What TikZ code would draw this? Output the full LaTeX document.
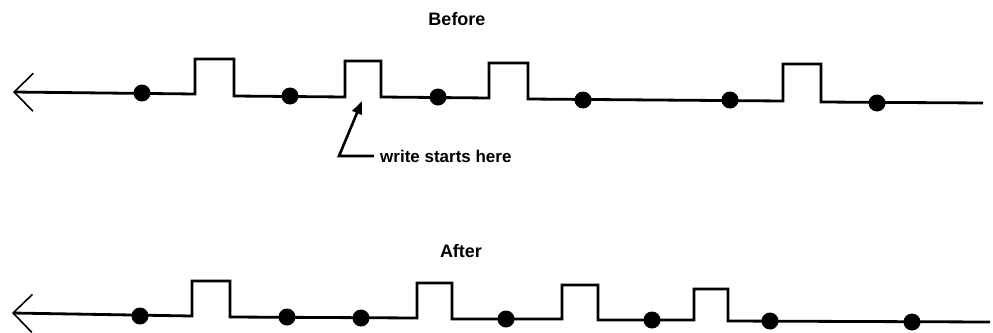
\documentclass[tikz,border=0pt]{standalone}
\usepackage{fontspec}
\setmainfont{Liberation Sans}
\usetikzlibrary{arrows.meta}
\begin{document}
\begin{tikzpicture}[x=1pt,y=-1pt,
  wave/.style={line width=2.8pt, line join=miter, line cap=butt},
  startarrow/.style={{Straight Barb[length=19pt,width=38pt,line width=1.6pt]}-},
  dot/.style={circle, fill=black, inner sep=0pt, minimum size=17pt},
  title/.style={font=\bfseries\fontsize{18}{21}\selectfont, inner sep=0pt},
  lbl/.style={font=\bfseries\fontsize{17}{20}\selectfont, inner sep=0pt, anchor=west},
  pointer/.style={line width=2.6pt, -{Triangle[length=13pt,width=10pt]}}
]
\useasboundingbox (0,0) rectangle (993,332);

% ---------- Before ----------
\node[title] (before) at (457,19) {Before};
\coordinate (bs) at (13,92);
\coordinate (be) at (983,103);
\draw[wave,startarrow] (bs) -- (195,94) -- (195,59) -- (234,59) -- (234,96)
  -- (345,97) -- (345,61) -- (381,61) -- (381,97)
  -- (489,98) -- (489,63) -- (528,63) -- (528,99)
  -- (783,101) -- (783,64) -- (821,64) -- (821,102) -- (be);
\node[dot] (b1) at (142,93) {};
\node[dot] (b2) at (290,96) {};
\node[dot] (b3) at (438,97) {};
\node[dot] (b4) at (583,100) {};
\node[dot] (b5) at (730,100) {};
\node[dot] (b6) at (877,103) {};

\node[lbl] (wsh) at (380,156) {write starts here};
\coordinate (ptrcorner) at (339,156);
\coordinate (ptrtip) at (362,101);
\draw[pointer] ([xshift=-6pt]wsh.west) -- (ptrcorner) -- (ptrtip);

% ---------- After ----------
\node[title] (after) at (461,251) {After};
\coordinate (as) at (12,313);
\coordinate (ae) at (990,322);
\draw[wave,startarrow] (as) -- (192,316) -- (192,281) -- (230,281) -- (230,317)
  -- (417,318) -- (417,283) -- (452,283) -- (452,319)
  -- (562,319) -- (562,285) -- (598,285) -- (598,320)
  -- (694,320) -- (694,289) -- (728,289) -- (728,321) -- (ae);
\node[dot] (a1) at (140,316) {};
\node[dot] (a2) at (287,317) {};
\node[dot] (a3) at (361,318) {};
\node[dot] (a4) at (506,319) {};
\node[dot] (a5) at (652,320) {};
\node[dot] (a6) at (770,321) {};
\node[dot] (a7) at (912,322) {};
\end{tikzpicture}
\end{document}
